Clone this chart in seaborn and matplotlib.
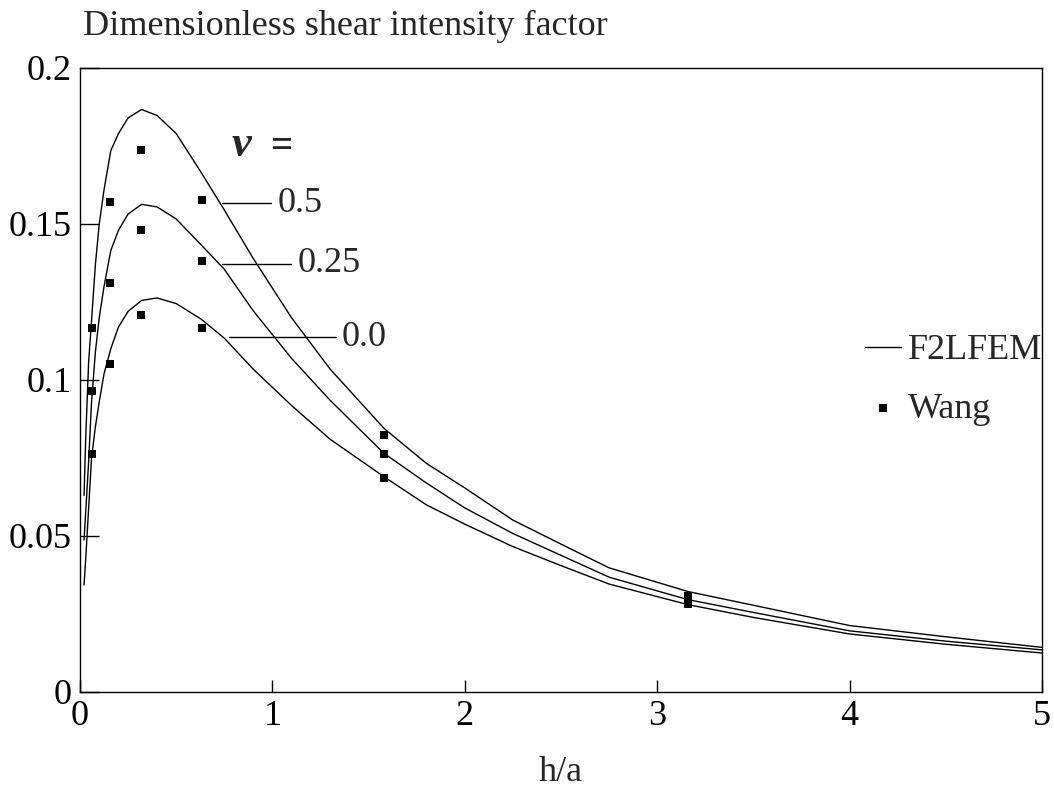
import pandas as pd
import seaborn as sns
import matplotlib.pyplot as plt

# h/a grid of the F2LFEM curves (shared by the three Poisson ratios)
h_a = [0.021, 0.03, 0.045, 0.06, 0.08, 0.1, 0.125, 0.16, 0.2, 0.25, 0.32, 0.4,
       0.5, 0.63, 0.75, 0.9, 1.1, 1.3, 1.58, 1.8, 2.0, 2.25, 2.5, 2.75, 3.16,
       3.5, 4.0, 4.5, 5.0]

# F2LFEM, nu = 0.5 / 0.25 / 0.0
fem_nu_050 = [0.063, 0.082, 0.106, 0.119, 0.137, 0.150, 0.161, 0.1735, 0.179,
              0.184, 0.1867, 0.1848, 0.179, 0.1665, 0.1545, 0.139, 0.1199,
              0.1035, 0.0845, 0.0733, 0.0654, 0.0551, 0.0474, 0.0398, 0.0322,
              0.0278, 0.0213, 0.0177, 0.0143]
fem_nu_025 = [0.0487, 0.058, 0.074, 0.093, 0.109, 0.120, 0.130, 0.1415, 0.148,
              0.1532, 0.1563, 0.1555, 0.1516, 0.1433, 0.1355, 0.1222, 0.1069,
              0.0935, 0.0765, 0.0670, 0.0590, 0.0508, 0.0438, 0.0368, 0.0296,
              0.0255, 0.0196, 0.0163, 0.0135]
fem_nu_000 = [0.0343, 0.043, 0.059, 0.075, 0.085, 0.093, 0.102, 0.110, 0.117,
              0.122, 0.1255, 0.1263, 0.1245, 0.1195, 0.1134, 0.1035, 0.0918,
              0.0810, 0.0690, 0.0600, 0.0538, 0.0466, 0.0405, 0.0346, 0.0280,
              0.0239, 0.0186, 0.0153, 0.0125]

# Wang's results
h_a_wang = [0.063, 0.158, 0.316, 0.632, 1.58, 3.16]
wang_nu_050 = [0.1168, 0.157, 0.1737, 0.1576, 0.0823, 0.0308]
wang_nu_025 = [0.0965, 0.1312, 0.148, 0.1381, 0.0763, 0.0295]
wang_nu_000 = [0.0763, 0.105, 0.1208, 0.1166, 0.0685, 0.0282]

nu_labels = ['0.5', '0.25', '0.0']
x_ticks = [0, 1, 2, 3, 4, 5]
y_ticks = [0, 0.05, 0.1, 0.15, 0.2]
y_tick_labels = ['0', '0.05', '0.1', '0.15', '0.2']

sns.set_style('white')
plt.rcParams['font.family'] = ['Liberation Serif', 'DejaVu Serif']
FS = 26

fig = plt.figure(figsize=(10.54, 8.01), dpi=100)
ax = fig.add_axes([80 / 1054, 1 - 692 / 801, (1042 - 80) / 1054, (692 - 68) / 801])

fem_series = [fem_nu_050, fem_nu_025, fem_nu_000]
for i, vals in enumerate(fem_series):
    sns.lineplot(x=h_a, y=vals, color='black', linewidth=1.0, ax=ax,
                 label='F2LFEM' if i == 0 else None)

wang_df = pd.DataFrame({
    'h/a': h_a_wang * 3,
    'K': wang_nu_050 + wang_nu_025 + wang_nu_000,
})
sns.scatterplot(data=wang_df, x='h/a', y='K', marker='s', s=30, color='black',
                linewidth=0, ax=ax, label='Wang')

# curve labels with leader lines
leaders = [(0.736, 0.995, 0.1566), (0.736, 1.099, 0.1372), (0.775, 1.332, 0.1137)]
for (x0, x1, y), lab in zip(leaders, nu_labels):
    ax.plot([x0, x1], [y, y], color='black', linewidth=1.0)
    ax.text(x1 + 0.03, y, lab, fontsize=FS, va='center', ha='left')
ax.text(0.79, 0.1753, 'ν', fontsize=32, fontweight='bold', fontstyle='italic',
        va='center', ha='left')
ax.text(0.99, 0.1745, '=', fontsize=28, fontweight='bold', va='center', ha='left')

ax.set_xlim(0, 5)
ax.set_ylim(0, 0.2)
ax.set_xticks(x_ticks)
ax.set_xticklabels([str(t) for t in x_ticks])
ax.set_yticks(y_ticks)
ax.set_yticklabels(y_tick_labels)
ax.tick_params(axis='y', direction='in', length=14, width=1.0, labelsize=FS, pad=6,
               left=True, colors='black')
ax.tick_params(axis='x', direction='in', length=8.5, width=1.0, labelsize=FS, pad=6,
               bottom=True, colors='black')
for sp in ax.spines.values():
    sp.set_color('black')
    sp.set_linewidth(1.0)

ax.set_xlabel('h/a', fontsize=FS, labelpad=16)
ax.set_ylabel('')
fig.text(83 / 1054, 1 - 35 / 801, 'Dimensionless shear intensity factor',
         fontsize=FS, ha='left', va='baseline')

ax.legend(frameon=False, fontsize=FS, loc='center left',
          bbox_to_anchor=(0.816, 0.50), borderaxespad=0, borderpad=0,
          handlelength=1.0, handletextpad=0.2, labelspacing=0.7)

fig.savefig('out.png', dpi=100)
